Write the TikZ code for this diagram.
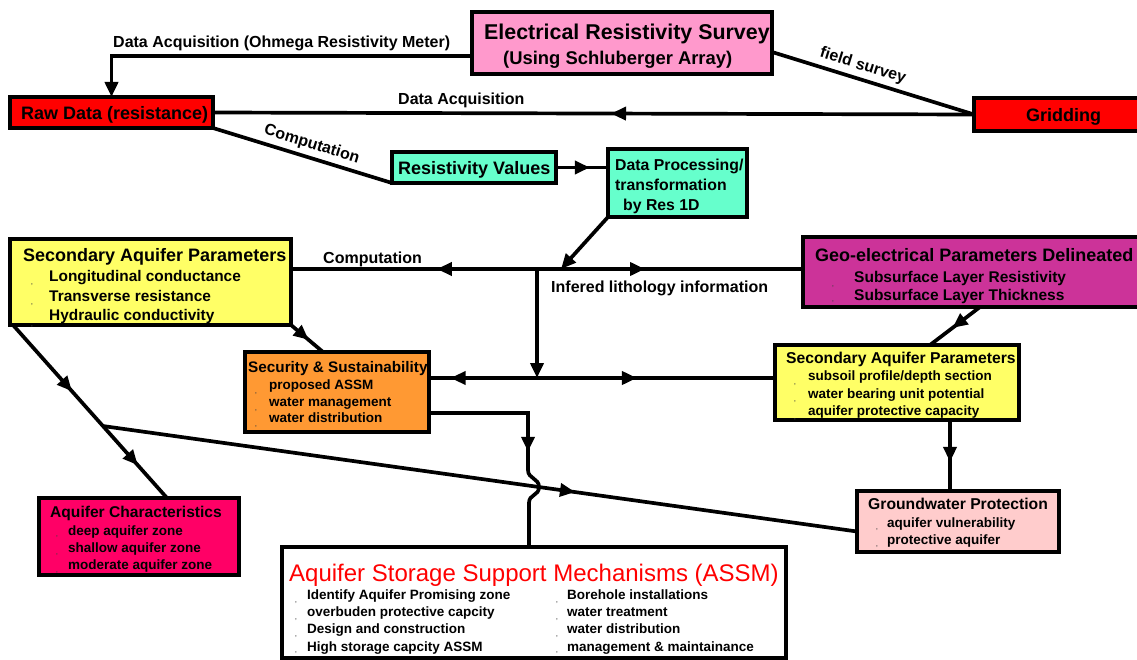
\documentclass[tikz,border=0pt]{standalone}
\usepackage{fontspec}
\setmainfont{Liberation Sans}
\usetikzlibrary{arrows.meta,decorations.markings,calc}
\definecolor{cERS}{HTML}{FF99CC}
\definecolor{cRed}{HTML}{FF0000}
\definecolor{cAqua}{HTML}{66FFCC}
\definecolor{cYel}{HTML}{FFFF66}
\definecolor{cMag}{HTML}{CC3399}
\definecolor{cOra}{HTML}{FF9933}
\definecolor{cPink}{HTML}{FFCCCC}
\definecolor{cCrim}{HTML}{FF0066}
\newcommand\fsz[1]{\fontsize{#1}{#1}\selectfont}
\tikzset{
  boxsty/.style={draw=black, line width=4pt, anchor=north west, inner sep=0pt, outer sep=0pt},
  conn/.style={draw=black, line width=3.7pt},
  tipend/.style={-{Triangle[length=15pt,width=13pt]}},
  arrowat/.style={postaction={decorate, decoration={markings, mark=at position #1 with {\arrow{Triangle[length=15pt,width=13pt]}}}}},
  tx/.style={anchor=base west, inner sep=0pt, font=\bfseries\fsz{#1}},
  commasty/.style={anchor=base, inner sep=0pt, font=\fsz{8}, text=black!75},
  lab/.style={inner sep=0pt, font=\bfseries\fsz{16}}
}
\begin{document}
\begin{tikzpicture}[x=1pt, y=-1pt]
\useasboundingbox (0,0) rectangle (1137,660);

% ---------- boxes ----------
\node[boxsty, fill=cERS, minimum width=300pt, minimum height=62pt] (ers) at (472,12) {};
\node[boxsty, fill=cRed, minimum width=203pt, minimum height=31pt] (raw) at (10,97) {};
\node[boxsty, fill=cRed, minimum width=172pt, minimum height=33pt] (grid) at (974,98) {};
\node[boxsty, fill=cAqua, minimum width=164pt, minimum height=31pt] (res) at (392,152) {};
\node[boxsty, fill=cAqua, minimum width=139pt, minimum height=68pt] (dp) at (608,149) {};
\node[boxsty, fill=cYel, minimum width=281pt, minimum height=86pt] (secl) at (10,239) {};
\node[boxsty, fill=cMag, minimum width=342pt, minimum height=70pt] (geo) at (803,237) {};
\node[boxsty, fill=cOra, minimum width=184pt, minimum height=80pt] (sec2) at (245,352) {};
\node[boxsty, fill=cYel, minimum width=244pt, minimum height=75pt] (secr) at (775,345) {};
\node[boxsty, fill=cPink, minimum width=202pt, minimum height=61pt] (gw) at (857,491) {};
\node[boxsty, fill=cCrim, minimum width=200pt, minimum height=77pt] (aqc) at (39,498) {};
\node[boxsty, fill=white, minimum width=504pt, minimum height=111pt] (assm) at (282,547) {};

% ---------- box texts ----------
\node[tx=21.4] (t1) at (484,39.7) {Electrical Resistivity Survey};
\node[tx=18.4] (t2) at (503,64.6) {(Using Schluberger Array)};
\node[tx=18] (t3) at (21,119.5) {Raw Data (resistance)};
\node[tx=18] (t4) at (1026,121.5) {Gridding};
\node[tx=18] (t5) at (398,174.5) {Resistivity Values};
\node[tx=15.8] (t6) at (615,170.7) {Data Processing/};
\node[tx=15.8] (t7) at (615,190.7) {transformation};
\node[tx=15.8] (t8) at (623,210.7) {by Res 1D};

\node[tx=18] (t9) at (23,261.5) {Secondary Aquifer Parameters};
\node[tx=15.4] (t10) at (49,281.5) {Longitudinal conductance};
\node[tx=15.4] (t11) at (49,301.5) {Transverse resistance};
\node[tx=15.4] (t12) at (49,320.5) {Hydraulic conductivity};

\node[tx=18] (t13) at (815,261.5) {Geo-electrical Parameters Delineated};
\node[tx=15.5] (t14) at (854,282.6) {Subsurface Layer Resistivity};
\node[tx=15.5] (t15) at (854,300.6) {Subsurface Layer Thickness};

\node[tx=15.3] (t16) at (248,372.5) {Security \& Sustainability};
\node[tx=13.5] (t17) at (269,389.9) {proposed ASSM};
\node[tx=13.5] (t18) at (269,406.9) {water management};
\node[tx=13.5] (t19) at (269,422.9) {water distribution};

\node[tx=15.7] (t20) at (786,363.7) {Secondary Aquifer Parameters};
\node[tx=13.5] (t21) at (808,380.9) {subsoil profile/depth section};
\node[tx=13.5] (t22) at (808,398.9) {water bearing unit potential};
\node[tx=13.5] (t23) at (808,415.9) {aquifer protective capacity};

\node[tx=15.7] (t24) at (868,509.7) {Groundwater Protection};
\node[tx=13.5] (t25) at (887,527.9) {aquifer vulnerability};
\node[tx=13.5] (t26) at (887,544.9) {protective aquifer};

\node[tx=15.6] (t27) at (50,517.6) {Aquifer Characteristics};
\node[tx=13.5] (t28) at (68,535.9) {deep aquifer zone};
\node[tx=13.5] (t29) at (68,552.9) {shallow aquifer zone};
\node[tx=13.5] (t30) at (68,569.9) {moderate aquifer zone};

\node[anchor=base west, inner sep=0pt, font=\fsz{24}, text=cRed] (t31) at (289,581.6) {Aquifer Storage Support Mechanisms (ASSM)};
\node[tx=13.5] (t32) at (307,599.9) {Identify Aquifer Promising zone};
\node[tx=13.5] (t33) at (307,616.9) {overbuden protective capcity};
\node[tx=13.5] (t34) at (307,633.9) {Design and construction};
\node[tx=13.5] (t35) at (307,651.9) {High storage capcity ASSM};
\node[tx=13.5] (t36) at (567,599.9) {Borehole installations};
\node[tx=13.5] (t37) at (567,616.9) {water treatment};
\node[tx=13.5] (t38) at (567,633.9) {water distribution};
\node[tx=13.5] (t39) at (567,651.9) {management \& maintainance};

% tiny commas
\foreach \x/\y [count=\i] in {32/284,32/304,32/326, 256/393,256/410,256/426,
  795/384,795/401,795/419, 833/286,833/301, 877/529,877/546,
  57/536,57/554,57/572, 296/602,296/619,296/636,296/652,
  557/602,557/619,557/636,557/652}
  \node[commasty] (cma\i) at (\x,\y) {,};

% ---------- connectors ----------
\draw[conn, tipend] ([yshift=-13pt]ers.west) -| (raw.north);
\node[lab, anchor=base west] (l1) at (113,47.8) {Data Acquisition (Ohmega Resistivity Meter)};

\draw[conn] ([yshift=-9pt]ers.east) -- node[lab, pos=0.43, sloped, above=4pt] (l2) {field survey} (grid.west);

\draw[conn, arrowat=0.477] (grid.west) -- (raw.east);
\node[lab, anchor=base west] (l3) at (398,104.8) {Data Acquisition};

\draw[conn] (raw.south east) -- node[lab, pos=0.53, sloped, above=4pt] (l4) {Computation} (res.south west);

\draw[conn, arrowat=0.65] (res.east) -- (res.east -| dp.west);

\coordinate (c1) at (537,269);
\coordinate (c2) at (537,378);
\coordinate (c3) at (561,269);
\draw[conn, tipend] (dp.south west) -- (c3);
\draw[conn, arrowat=0.407] (c1) -- (c1 -| secl.east);
\draw[conn, arrowat=0.406] (c1) -- (c1 -| geo.west);
\draw[conn, tipend] (c1) -- (c2);
\draw[conn, arrowat=0.8] (c2) -- (c2 -| sec2.east);
\draw[conn, arrowat=0.42] (c2) -- (c2 -| secr.west);
\node[lab, anchor=base west] (l5) at (323,263.8) {Computation};
\node[lab, anchor=base west] (l6) at (551,292.8) {Infered lithology information};

\draw[conn, arrowat=0.55] ([xshift=6pt]geo.south) -- ([xshift=33pt]secr.north);
\draw[conn, arrowat=0.55] (secl.south east) -- ([xshift=-14pt]sec2.north);

\coordinate (gwin) at ([xshift=-8pt]gw.north);
\draw[conn, arrowat=0.59] (gwin |- secr.south) -- (gwin);

\draw[conn, arrowat=0.383, arrowat=0.81] ([xshift=3pt]secl.south west) -- coordinate[pos=0.584] (jn) ([xshift=28pt]aqc.north);
\draw[conn, arrowat=0.626] (jn) -- ([yshift=-10pt]gw.west);

\coordinate (b1) at (528,413);
\coordinate (b2) at (528,470);
\coordinate (b3) at (529,503);
\draw[conn] ([yshift=-21pt]sec2.east) -- (b1) -- (b2)
  .. controls (528,479) and (539,478) .. (539,487)
  .. controls (539,496) and (529,494) .. (b3) -- (b3 |- assm.north);
\draw[conn, arrowat=0.68] (b1) -- (b2);
\end{tikzpicture}
\end{document}
